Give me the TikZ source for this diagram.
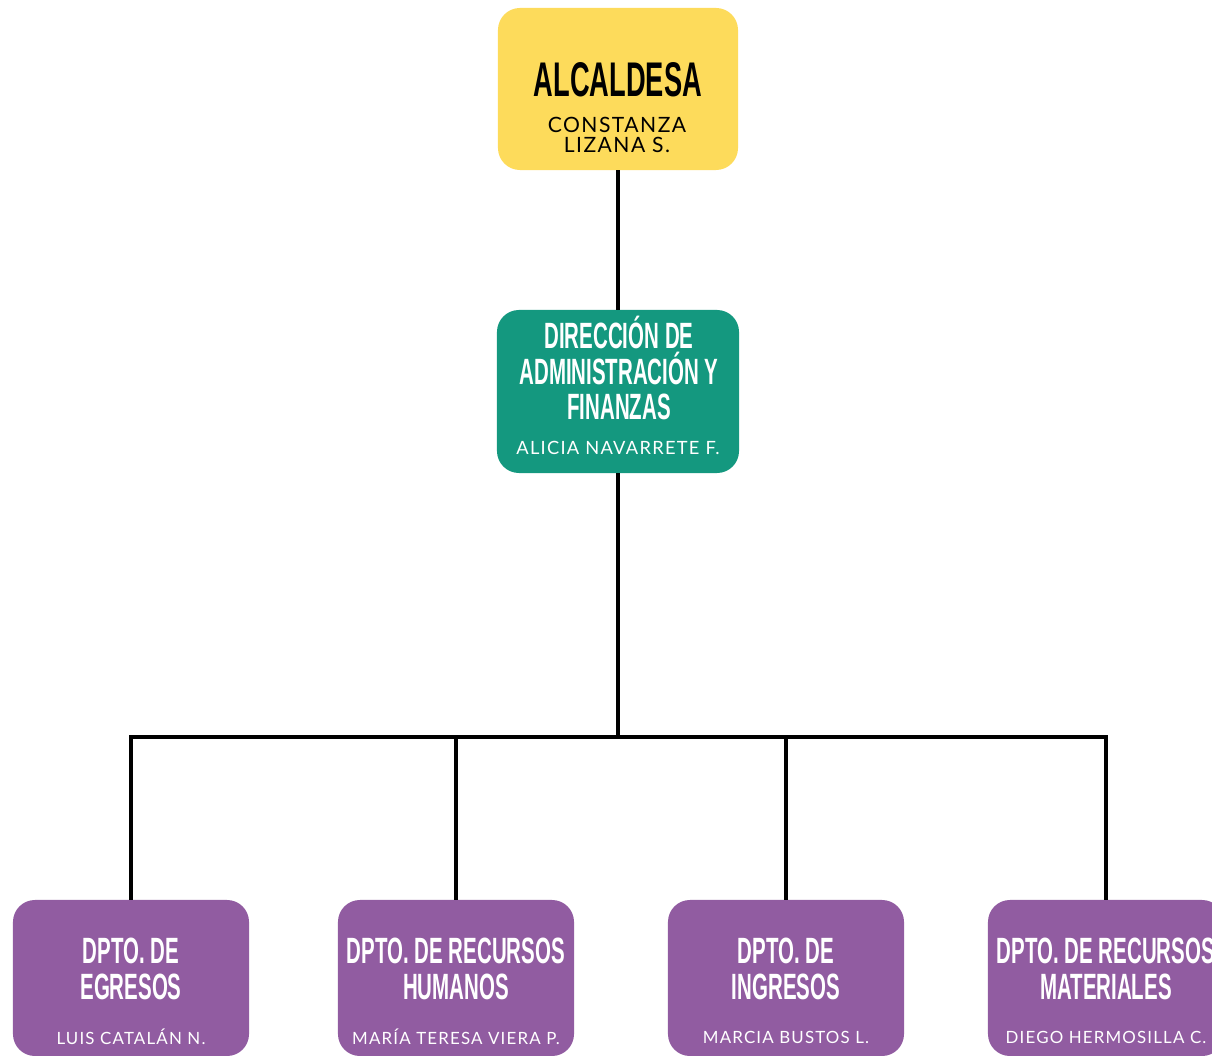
\documentclass[tikz,border=0pt]{standalone}
\usepackage{fontspec}
\setmainfont{Lato}
\newfontfamily\headfont[FakeStretch=0.56]{Liberation Sans}
\newfontfamily\namefont[LetterSpace=7]{Lato}
\definecolor{amarillo}{HTML}{FDDB5B}
\definecolor{verde}{HTML}{14987F}
\definecolor{morado}{HTML}{915CA1}
\tikzset{
  caja/.style={draw=none, rounded corners=0.55cm, minimum width=5.9cm, minimum height=3.9cm, inner sep=0pt},
  titulo/.style={align=center, inner sep=0pt, font=\headfont\bfseries\fontsize{26}{25.5}\selectfont},
  nombre/.style={align=center, inner sep=0pt, font=\namefont\fontsize{12}{14}\selectfont},
  linea/.style={line width=3.5pt}
}
\begin{document}
\begin{tikzpicture}[x=0.025cm, y=-0.025cm]
    \useasboundingbox (0,0) rectangle (1212,1056);
    \clip (0,0) rectangle (1212,1056);
    % cajas
    \node[caja, fill=amarillo, minimum width=6cm, minimum height=4.05cm] (alc) at (618,89) {};
    \node[caja, fill=verde, minimum width=6.05cm, minimum height=4.075cm] (daf) at (618,391.5) {};
    \node[caja, fill=morado] (egr) at (131,978) {};
    \node[caja, fill=morado] (rrhh) at (456,978) {};
    \node[caja, fill=morado] (ing) at (786,978) {};
    \node[caja, fill=morado] (rrmm) at (1106,978) {};
    % lineas
    \coordinate (bus) at (618,737);
    \draw[linea] (alc.south) -- (daf.north);
    \draw[linea] (daf.south) -- (bus);
    \draw[linea] (egr.north) |- (bus) -| (rrmm.north);
    \draw[linea] (rrhh.north) -- (rrhh.north |- bus);
    \draw[linea] (ing.north) -- (ing.north |- bus);
    % textos
    \node[titulo, font=\headfont\bfseries\fontsize{34.6}{36}\selectfont] (talc) at (618,80) {ALCALDESA};
    \node[nombre, font=\namefont\fontsize{15}{14.2}\selectfont] (nalc) at (617,135) {CONSTANZA\\ LIZANA S.};
    \node[titulo, text=white] (tdaf) at (619,368) {DIRECCIÓN DE\\ADMINISTRACIÓN Y\\FINANZAS};
    \node[nombre, text=white, font=\namefont\fontsize{13}{14}\selectfont] (ndaf) at (618,448) {ALICIA NAVARRETE F.};
    \node[titulo, text=white] (tegr) at (131,969) {DPTO. DE\\EGRESOS};
    \node[nombre, text=white] (negr) at (131,1037) {LUIS CATALÁN N.};
    \node[titulo, text=white] (trrhh) at (456,969) {DPTO. DE RECURSOS\\HUMANOS};
    \node[nombre, text=white] (nrrhh) at (456,1037) {MARÍA TERESA VIERA P.};
    \node[titulo, text=white] (ting) at (786,969) {DPTO. DE\\INGRESOS};
    \node[nombre, text=white] (ning) at (786,1037) {MARCIA BUSTOS L.};
    \node[titulo, text=white] (trrmm) at (1106,969) {DPTO. DE RECURSOS\\MATERIALES};
    \node[nombre, text=white] (nrrmm) at (1106,1037) {DIEGO HERMOSILLA C.};
\end{tikzpicture}
\end{document}
